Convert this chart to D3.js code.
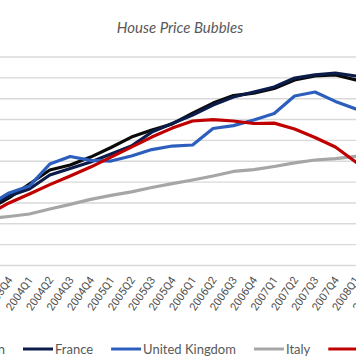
<!DOCTYPE html>
<html>
<head>
<meta charset="utf-8">
<script src="https://cdnjs.cloudflare.com/ajax/libs/d3/7.8.5/d3.min.js"></script>
<style>
  html, body { margin: 0; padding: 0; background: #fff; overflow: hidden; }
  svg { display: block; }
</style>
</head>
<body>
<svg id="chart" width="356" height="364"></svg>
<script>
// ---- data ----
const categories = ["2003Q3","2003Q4","2004Q1","2004Q2","2004Q3","2004Q4","2005Q1","2005Q2","2005Q3","2005Q4",
                    "2006Q1","2006Q2","2006Q3","2006Q4","2007Q1","2007Q2","2007Q3","2007Q4","2008Q1","2008Q2"];
const spain  = [127.1,132.4,139.1,145.8,148.2,152.0,156.6,161.6,165.0,167.9,173.1,177.9,181.5,182.7,184.9,189.0,190.9,191.4,189.0,188.0];
const france = [128.1,133.3,136.7,143.4,146.5,149.6,153.5,157.3,164.0,168.1,172.2,177.0,180.8,183.2,185.6,189.9,191.4,192.3,190.9,189.4];
const uk     = [129.0,134.8,138.1,148.7,152.3,150.4,150.1,152.5,155.6,157.3,157.8,165.7,167.1,169.8,172.9,181.3,183.2,178.7,175.1,171.7];
const italy  = [122.5,123.5,124.7,127.1,129.3,131.7,133.6,135.3,137.4,139.3,141.0,142.9,145.1,146.0,147.5,149.2,150.6,151.3,152.3,153.0];
const us     = [124.7,130.0,134.3,138.8,142.9,147.2,152.0,156.8,161.6,165.9,169.3,170.0,169.3,168.1,168.3,165.5,161.4,156.8,149.6,143.4];
const seriesNames  = ["Spain","France","United Kingdom","Italy","United States"];
const seriesColors = ["#0a0a0a","#0c1c4a","#2c5fbd","#a6a6a6","#c00000"];
const yTicks = [100,110,120,130,140,150,160,170,180,190,200];
const title = "House Price Bubbles";

const seriesData = [spain, france, uk, italy, us];

// ---- layout ----
const W = 356, H = 364;
const svg = d3.select("#chart");
const FONT = "Lato, 'Open Sans', sans-serif";

const x = d3.scalePoint().domain(categories).range([-11.4, 376.2]);
const y = d3.scaleLinear().domain([100, 200]).range([265.5, 57]);

// title
svg.append("text")
  .attr("x", 180).attr("y", 32.5)
  .attr("text-anchor", "middle")
  .attr("font-family", FONT)
  .attr("font-style", "italic")
  .attr("font-size", 15)
  .attr("fill", "#595959")
  .text(title);

// gridlines
svg.append("g").selectAll("line")
  .data(yTicks)
  .join("line")
  .attr("x1", 0).attr("x2", W)
  .attr("y1", d => y(d)).attr("y2", d => y(d))
  .attr("stroke", "#d9d9d9")
  .attr("stroke-width", 1.4);

// x axis labels
const xAxis = d3.axisBottom(x).tickSize(0).tickPadding(0);
const gx = svg.append("g").attr("transform", `translate(0,${y(100)})`).call(xAxis);
gx.select(".domain").remove();
gx.selectAll("text")
  .attr("font-family", "Roboto, sans-serif")
  .attr("font-size", 11)
  .attr("fill", "#505050")
  .attr("text-anchor", "end")
  .attr("dy", null)
  .attr("y", 0)
  .attr("transform", "translate(3.6,14.5) rotate(-55)");

// lines
const line = d3.line()
  .x((d, i) => x(categories[i]))
  .y(d => y(d));

svg.append("g").selectAll("path")
  .data(seriesData)
  .join("path")
  .attr("d", d => line(d))
  .attr("fill", "none")
  .attr("stroke", (d, i) => seriesColors[i])
  .attr("stroke-width", 3.2)
  .attr("stroke-linejoin", "round")
  .attr("stroke-linecap", "round");

// legend
const legend = svg.append("g").attr("transform", "translate(0,349)");
const items = legend.selectAll("g").data(seriesNames).join("g");
items.append("line")
  .attr("x1", 0).attr("x2", 30).attr("y1", 0).attr("y2", 0)
  .attr("stroke", (d, i) => seriesColors[i])
  .attr("stroke-width", 3);
items.append("text")
  .attr("x", 32).attr("y", 0).attr("dy", "0.35em")
  .attr("font-family", FONT)
  .attr("font-size", 13)
  .attr("fill", "#595959")
  .text(d => d);
// position items sequentially: first item's text ends near x=5
const widths = [];
items.each(function() { widths.push(d3.select(this).select("text").node().getComputedTextLength()); });
let cursor = 5 - widths[0] - 32;
const gap = 18;
items.each(function(d, i) {
  d3.select(this).attr("transform", `translate(${cursor},0)`);
  cursor += 32 + widths[i] + gap;
});
</script>
</body>
</html>
